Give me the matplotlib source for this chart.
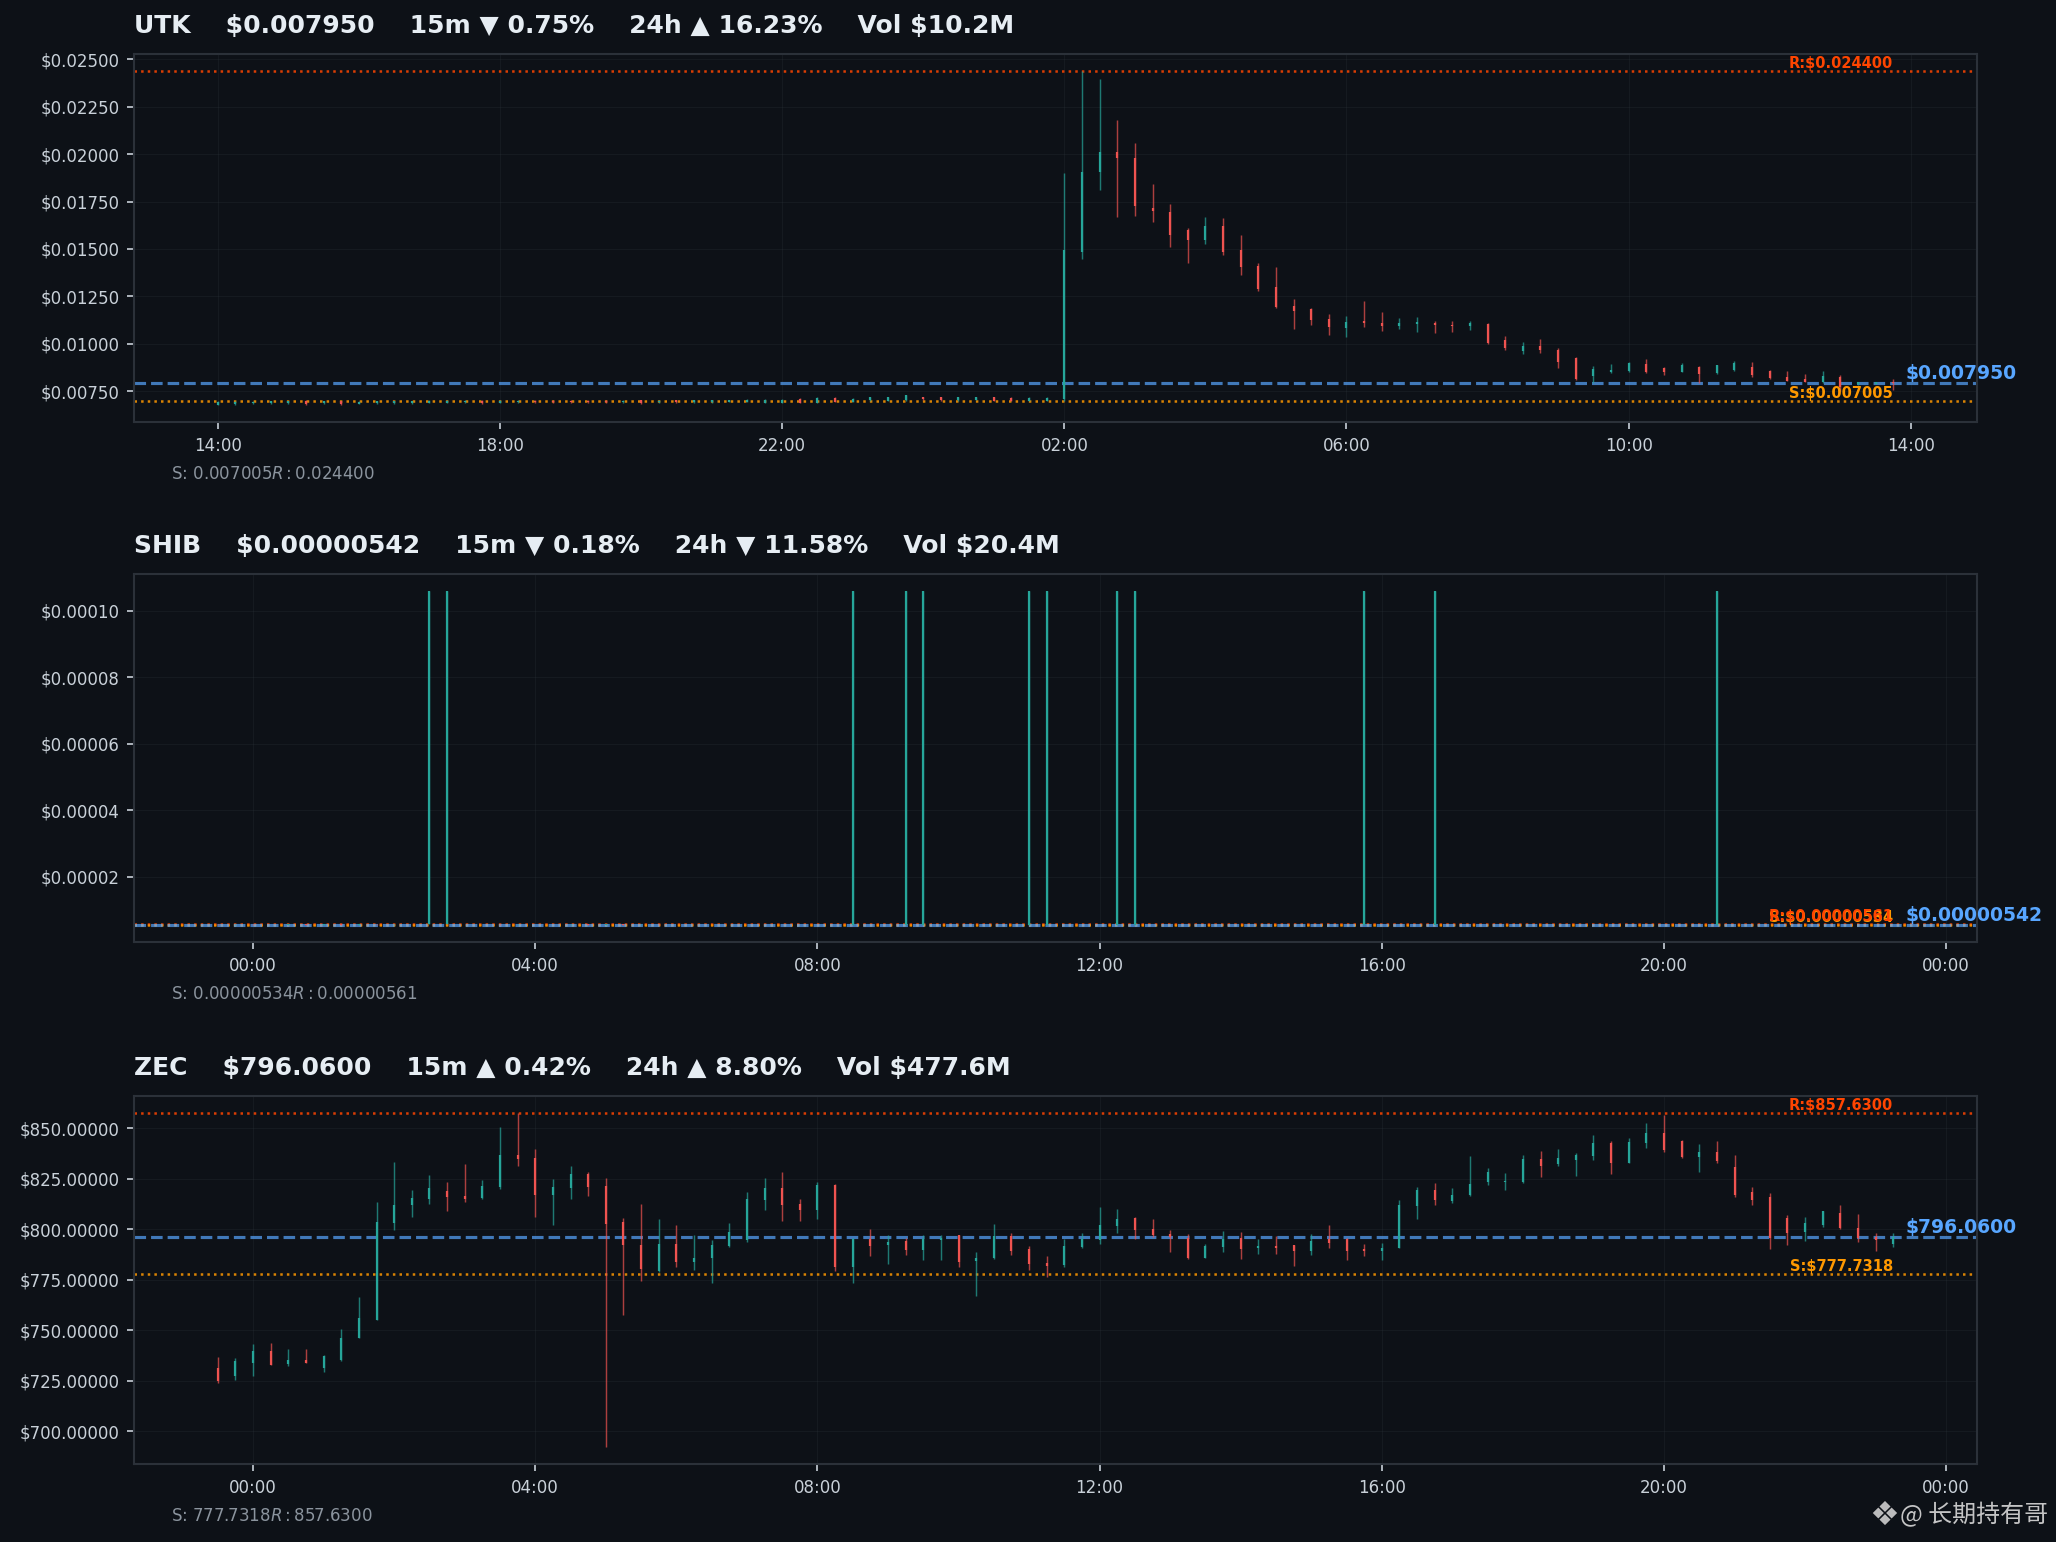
import pandas as pd
import numpy as np
import matplotlib
matplotlib.use("Agg")
import matplotlib.pyplot as plt
import matplotlib.dates as mdates
from matplotlib.ticker import FuncFormatter

BG = "#0d1117"
UP = "#26a69a"
DOWN = "#ef5350"
BLUE = "#58a6ff"
RES_C = "#ff4500"
SUP_C = "#ff9800"
TEXT_C = "#e6edf3"
TICK_C = "#c9d1d9"
MUTED = "#8b949e"
SPINE = "#2b3139"

# ---------------- UTK (15m candles, 14:00 -> 13:45) ----------------
utk_start = "2025-11-09 14:00"
utk_open = [
    0.00680, 0.00685, 0.00686, 0.00688, 0.00689, 0.00697, 0.00686, 0.00696,
    0.00684, 0.00687, 0.00688, 0.00689, 0.00690, 0.00690, 0.00691, 0.00700,
    0.00689, 0.00692, 0.00701, 0.00700, 0.00701, 0.00700, 0.00701, 0.00692,
    0.00702, 0.00691, 0.00702, 0.00693, 0.00694, 0.00694, 0.00695, 0.00690,
    0.00688, 0.00710, 0.00688, 0.00716, 0.00695, 0.00702, 0.00698, 0.00703,
    0.00720, 0.00720, 0.00703, 0.00704, 0.00720, 0.00716, 0.00699, 0.00699,
    0.00707, 0.01484, 0.01906, 0.02009, 0.01978, 0.01718, 0.01693, 0.01600,
    0.01545, 0.01620, 0.01494, 0.01410, 0.01298, 0.01199, 0.01182, 0.01133,
    0.01083, 0.01119, 0.01110, 0.01096, 0.01105, 0.01110, 0.01100, 0.01094,
    0.01104, 0.01020, 0.00960, 0.00990, 0.00966, 0.00925, 0.00830, 0.00850,
    0.00855, 0.00893, 0.00870, 0.00852, 0.00878, 0.00845, 0.00862, 0.00876,
    0.00855, 0.00825, 0.00813, 0.00800, 0.00827, 0.00790, 0.00790, 0.00801,
]
utk_high = [
    0.00698, 0.00697, 0.00699, 0.00700, 0.00701, 0.00702, 0.00700, 0.00700,
    0.00699, 0.00700, 0.00701, 0.00701, 0.00703, 0.00702, 0.00703, 0.00704,
    0.00702, 0.00703, 0.00705, 0.00704, 0.00705, 0.00704, 0.00704, 0.00705,
    0.00706, 0.00704, 0.00705, 0.00705, 0.00706, 0.00706, 0.00707, 0.00707,
    0.00707, 0.00712, 0.00718, 0.00718, 0.00712, 0.00722, 0.00722, 0.00730,
    0.00722, 0.00722, 0.00722, 0.00722, 0.00722, 0.00718, 0.00718, 0.00718,
    0.01900, 0.02440, 0.02399, 0.02178, 0.02057, 0.01841, 0.01735, 0.01609,
    0.01667, 0.01662, 0.01572, 0.01424, 0.01403, 0.01234, 0.01187, 0.01155,
    0.01145, 0.01224, 0.01166, 0.01134, 0.01140, 0.01119, 0.01119, 0.01119,
    0.01110, 0.01041, 0.01008, 0.01024, 0.00976, 0.00929, 0.00881, 0.00892,
    0.00902, 0.00918, 0.00880, 0.00900, 0.00883, 0.00890, 0.00907, 0.00902,
    0.00860, 0.00855, 0.00839, 0.00855, 0.00834, 0.00799, 0.00800, 0.00813,
]
utk_low = [
    0.00676, 0.00680, 0.00682, 0.00684, 0.00685, 0.00680, 0.00683, 0.00679,
    0.00681, 0.00683, 0.00684, 0.00685, 0.00686, 0.00686, 0.00687, 0.00685,
    0.00686, 0.00688, 0.00689, 0.00690, 0.00689, 0.00688, 0.00690, 0.00689,
    0.00685, 0.00688, 0.00688, 0.00690, 0.00690, 0.00691, 0.00691, 0.00688,
    0.00686, 0.00686, 0.00686, 0.00694, 0.00693, 0.00700, 0.00696, 0.00701,
    0.00705, 0.00700, 0.00701, 0.00702, 0.00697, 0.00697, 0.00697, 0.00697,
    0.00700, 0.01445, 0.01810, 0.01668, 0.01674, 0.01642, 0.01510, 0.01426,
    0.01526, 0.01468, 0.01363, 0.01278, 0.01190, 0.01078, 0.01099, 0.01046,
    0.01034, 0.01089, 0.01067, 0.01078, 0.01062, 0.01057, 0.01062, 0.01073,
    0.01000, 0.00966, 0.00945, 0.00951, 0.00871, 0.00807, 0.00795, 0.00848,
    0.00850, 0.00844, 0.00834, 0.00850, 0.00793, 0.00840, 0.00855, 0.00827,
    0.00813, 0.00802, 0.00799, 0.00795, 0.00751, 0.00785, 0.00786, 0.00755,
]
utk_close = [
    0.00692, 0.00693, 0.00695, 0.00696, 0.00697, 0.00684, 0.00696, 0.00683,
    0.00695, 0.00696, 0.00697, 0.00698, 0.00699, 0.00699, 0.00700, 0.00688,
    0.00699, 0.00700, 0.00692, 0.00693, 0.00692, 0.00691, 0.00694, 0.00701,
    0.00690, 0.00701, 0.00692, 0.00702, 0.00703, 0.00703, 0.00704, 0.00704,
    0.00705, 0.00688, 0.00716, 0.00695, 0.00710, 0.00720, 0.00720, 0.00728,
    0.00707, 0.00702, 0.00720, 0.00720, 0.00699, 0.00699, 0.00716, 0.00716,
    0.01493, 0.01904, 0.02009, 0.01979, 0.01726, 0.01700, 0.01573, 0.01547,
    0.01619, 0.01484, 0.01403, 0.01287, 0.01194, 0.01173, 0.01125, 0.01090,
    0.01115, 0.01110, 0.01092, 0.01110, 0.01114, 0.01100, 0.01092, 0.01108,
    0.01005, 0.00976, 0.00987, 0.00970, 0.00904, 0.00813, 0.00866, 0.00860,
    0.00897, 0.00851, 0.00850, 0.00890, 0.00840, 0.00886, 0.00898, 0.00834,
    0.00818, 0.00804, 0.00801, 0.00830, 0.00770, 0.00798, 0.00797, 0.00795,
]

# ---------------- SHIB (15m candles, 23:30 -> 23:15) ----------------
shib_start = "2025-11-09 23:30"
shib_open = [
    5.56e-6, 5.55e-6, 5.57e-6, 5.54e-6, 5.56e-6, 5.58e-6, 5.56e-6, 5.59e-6,
    5.57e-6, 5.61e-6, 5.58e-6, 5.60e-6, 5.59e-6, 5.60e-6, 5.60e-6, 5.63e-6,
    5.60e-6, 5.58e-6, 5.60e-6, 5.62e-6, 5.59e-6, 5.60e-6, 5.57e-6, 5.58e-6,
    5.56e-6, 5.57e-6, 5.55e-6, 5.56e-6, 5.54e-6, 5.55e-6, 5.53e-6, 5.54e-6,
    5.52e-6, 5.53e-6, 5.51e-6, 5.52e-6, 5.50e-6, 5.52e-6, 5.49e-6, 5.50e-6,
    5.51e-6, 5.52e-6, 5.49e-6, 5.47e-6, 5.49e-6, 5.50e-6, 5.48e-6, 5.49e-6,
    5.50e-6, 5.46e-6, 5.47e-6, 5.45e-6, 5.47e-6, 5.48e-6, 5.44e-6, 5.45e-6,
    5.43e-6, 5.44e-6, 5.42e-6, 5.43e-6, 5.41e-6, 5.42e-6, 5.39e-6, 5.40e-6,
    5.37e-6, 5.38e-6, 5.40e-6, 5.37e-6, 5.35e-6, 5.37e-6, 5.39e-6, 5.36e-6,
    5.37e-6, 5.39e-6, 5.37e-6, 5.40e-6, 5.41e-6, 5.38e-6, 5.39e-6, 5.42e-6,
    5.40e-6, 5.42e-6, 5.41e-6, 5.43e-6, 5.42e-6, 5.43e-6, 5.43e-6, 5.45e-6,
    5.44e-6, 5.42e-6, 5.43e-6, 5.41e-6, 5.42e-6, 5.44e-6, 5.43e-6, 5.43e-6,
]
shib_high = [
    5.58e-6, 5.58e-6, 5.59e-6, 5.57e-6, 5.60e-6, 5.59e-6, 5.60e-6, 5.61e-6,
    5.63e-6, 5.62e-6, 5.61e-6, 5.62e-6, 1.061e-4, 1.061e-4, 5.65e-6, 5.64e-6,
    5.62e-6, 5.61e-6, 5.64e-6, 5.63e-6, 5.61e-6, 5.62e-6, 5.59e-6, 5.60e-6,
    5.58e-6, 5.58e-6, 5.57e-6, 5.57e-6, 5.56e-6, 5.56e-6, 5.55e-6, 5.55e-6,
    5.54e-6, 5.54e-6, 5.53e-6, 5.53e-6, 1.060e-4, 5.53e-6, 5.51e-6, 1.061e-4,
    1.060e-4, 5.53e-6, 5.51e-6, 5.50e-6, 5.52e-6, 5.51e-6, 1.061e-4, 1.060e-4,
    5.51e-6, 5.48e-6, 5.48e-6, 1.060e-4, 1.061e-4, 5.49e-6, 5.46e-6, 5.46e-6,
    5.45e-6, 5.45e-6, 5.44e-6, 5.44e-6, 5.43e-6, 5.43e-6, 5.41e-6, 5.41e-6,
    5.39e-6, 1.061e-4, 5.41e-6, 5.39e-6, 5.38e-6, 1.060e-4, 5.40e-6, 5.38e-6,
    5.40e-6, 5.40e-6, 5.41e-6, 5.42e-6, 5.42e-6, 5.40e-6, 5.43e-6, 5.43e-6,
    5.43e-6, 5.43e-6, 5.44e-6, 5.44e-6, 5.45e-6, 1.061e-4, 5.46e-6, 5.46e-6,
    5.45e-6, 5.44e-6, 5.44e-6, 5.43e-6, 5.45e-6, 5.45e-6, 5.44e-6, 5.44e-6,
]
shib_low = [
    5.53e-6, 5.54e-6, 5.53e-6, 5.52e-6, 5.55e-6, 5.55e-6, 5.55e-6, 5.56e-6,
    5.56e-6, 5.57e-6, 5.57e-6, 5.58e-6, 5.58e-6, 5.59e-6, 5.58e-6, 5.59e-6,
    5.57e-6, 5.56e-6, 5.59e-6, 5.58e-6, 5.57e-6, 5.56e-6, 5.55e-6, 5.55e-6,
    5.54e-6, 5.53e-6, 5.53e-6, 5.52e-6, 5.52e-6, 5.51e-6, 5.51e-6, 5.50e-6,
    5.50e-6, 5.49e-6, 5.49e-6, 5.48e-6, 5.49e-6, 5.48e-6, 5.47e-6, 5.48e-6,
    5.49e-6, 5.48e-6, 5.46e-6, 5.46e-6, 5.48e-6, 5.47e-6, 5.46e-6, 5.47e-6,
    5.45e-6, 5.44e-6, 5.44e-6, 5.44e-6, 5.45e-6, 5.43e-6, 5.42e-6, 5.42e-6,
    5.41e-6, 5.41e-6, 5.40e-6, 5.40e-6, 5.39e-6, 5.38e-6, 5.37e-6, 5.36e-6,
    5.35e-6, 5.36e-6, 5.36e-6, 5.34e-6, 5.34e-6, 5.35e-6, 5.35e-6, 5.34e-6,
    5.36e-6, 5.36e-6, 5.36e-6, 5.38e-6, 5.37e-6, 5.37e-6, 5.38e-6, 5.39e-6,
    5.39e-6, 5.40e-6, 5.40e-6, 5.41e-6, 5.41e-6, 5.42e-6, 5.42e-6, 5.42e-6,
    5.41e-6, 5.40e-6, 5.40e-6, 5.39e-6, 5.41e-6, 5.42e-6, 5.41e-6, 5.41e-6,
]
# the spike candles close at their high, so they show as full-height bodies
shib_close = [
    5.55e-6, 5.57e-6, 5.54e-6, 5.56e-6, 5.58e-6, 5.56e-6, 5.59e-6, 5.57e-6,
    5.61e-6, 5.58e-6, 5.60e-6, 5.59e-6, 1.061e-4, 1.061e-4, 5.63e-6, 5.60e-6,
    5.58e-6, 5.60e-6, 5.62e-6, 5.59e-6, 5.60e-6, 5.57e-6, 5.58e-6, 5.56e-6,
    5.57e-6, 5.55e-6, 5.56e-6, 5.54e-6, 5.55e-6, 5.53e-6, 5.54e-6, 5.52e-6,
    5.53e-6, 5.51e-6, 5.52e-6, 5.50e-6, 1.060e-4, 5.49e-6, 5.50e-6, 1.061e-4,
    1.060e-4, 5.49e-6, 5.47e-6, 5.49e-6, 5.50e-6, 5.48e-6, 1.061e-4, 1.060e-4,
    5.46e-6, 5.47e-6, 5.45e-6, 1.060e-4, 1.061e-4, 5.44e-6, 5.45e-6, 5.43e-6,
    5.44e-6, 5.42e-6, 5.43e-6, 5.41e-6, 5.42e-6, 5.39e-6, 5.40e-6, 5.37e-6,
    5.38e-6, 1.061e-4, 5.37e-6, 5.35e-6, 5.37e-6, 1.060e-4, 5.36e-6, 5.37e-6,
    5.39e-6, 5.37e-6, 5.40e-6, 5.41e-6, 5.38e-6, 5.39e-6, 5.42e-6, 5.40e-6,
    5.42e-6, 5.41e-6, 5.43e-6, 5.42e-6, 5.44e-6, 1.061e-4, 5.45e-6, 5.44e-6,
    5.42e-6, 5.43e-6, 5.41e-6, 5.42e-6, 5.44e-6, 5.43e-6, 5.43e-6, 5.42e-6,
]

# ---------------- ZEC (15m candles, 23:30 -> 23:15) ----------------
zec_start = "2025-11-09 23:30"
zec_open = [
    731.5, 727.5, 734.0, 739.7, 733.5, 735.6, 731.5, 735.3,
    746.4, 755.3, 803.2, 811.8, 815.0, 819.1, 816.6, 815.3,
    820.8, 836.6, 835.0, 816.7, 820.3, 827.3, 821.3, 803.6,
    792.1, 779.3, 792.6, 783.9, 785.9, 791.6, 794.6, 814.7,
    820.3, 812.6, 809.6, 821.9, 781.5, 795.4, 792.1, 794.1,
    789.7, 794.6, 797.0, 784.3, 785.6, 796.7, 790.0, 783.1,
    782.3, 791.0, 794.6, 801.4, 805.5, 800.3, 797.8, 795.7,
    786.0, 791.4, 795.7, 790.5, 791.9, 792.0, 789.5, 795.0,
    795.4, 790.2, 789.2, 790.8, 811.7, 819.5, 814.2, 816.7,
    823.2, 823.2, 823.2, 834.7, 832.2, 834.3, 836.3, 842.5,
    833.0, 842.5, 847.8, 843.7, 835.5, 838.3, 830.6, 818.3,
    815.9, 805.5, 798.7, 801.9, 808.2, 800.6, 796.2, 792.73,
]
zec_high = [
    736.9, 736.4, 743.3, 743.8, 740.9, 740.9, 737.6, 750.7,
    766.4, 813.6, 833.2, 819.5, 826.8, 823.2, 832.2, 824.4,
    850.4, 857.63, 839.6, 824.9, 831.2, 828.3, 825.3, 805.7,
    812.6, 805.2, 801.9, 797.4, 794.6, 803.2, 818.3, 825.3,
    828.3, 815.0, 823.2, 822.4, 795.7, 800.3, 797.0, 795.7,
    797.0, 797.4, 797.4, 788.8, 802.7, 798.3, 791.5, 787.0,
    795.4, 798.3, 811.1, 810.1, 806.2, 805.2, 799.8, 797.8,
    792.9, 799.3, 798.8, 795.4, 796.9, 792.4, 797.8, 802.3,
    795.9, 792.9, 793.4, 814.5, 820.8, 822.9, 820.3, 836.0,
    830.1, 827.6, 836.6, 838.8, 839.9, 837.9, 846.5, 843.5,
    845.3, 852.4, 856.3, 844.0, 842.1, 843.5, 836.6, 820.8,
    818.0, 807.2, 806.0, 809.1, 812.1, 807.7, 798.3, 798.3,
]
zec_low = [
    724.2, 725.3, 727.3, 732.7, 732.2, 733.7, 729.6, 734.8,
    746.0, 755.0, 799.5, 805.9, 812.7, 808.8, 813.7, 815.0,
    820.0, 831.4, 805.9, 802.3, 815.0, 816.3, 692.2, 757.7,
    774.4, 779.0, 781.5, 779.8, 773.3, 791.3, 793.8, 809.6,
    803.9, 803.9, 804.9, 779.3, 773.6, 786.7, 782.8, 787.2,
    784.7, 784.7, 781.5, 767.1, 785.1, 787.5, 779.7, 776.2,
    781.2, 790.5, 792.9, 798.3, 795.4, 796.4, 789.0, 785.1,
    785.8, 789.0, 785.1, 788.0, 788.0, 781.6, 787.5, 790.5,
    784.6, 786.7, 784.7, 790.5, 804.9, 812.1, 812.9, 816.5,
    821.9, 819.5, 822.9, 825.7, 831.4, 826.5, 834.3, 827.3,
    832.8, 840.1, 838.0, 835.0, 828.5, 833.0, 815.9, 811.8,
    790.2, 792.4, 794.1, 801.1, 800.3, 793.7, 789.2, 791.3,
]
zec_close = [
    725.0, 735.0, 739.7, 733.0, 735.6, 734.0, 737.3, 746.3,
    756.1, 803.6, 812.1, 815.4, 820.3, 816.2, 815.0, 821.3,
    836.6, 834.7, 816.7, 820.8, 827.3, 821.1, 802.8, 792.1,
    780.3, 792.6, 783.9, 785.9, 792.1, 798.6, 815.0, 820.3,
    812.1, 809.6, 821.9, 781.5, 795.4, 791.6, 793.7, 789.7,
    795.4, 795.7, 783.9, 785.9, 796.7, 789.5, 782.6, 782.0,
    791.6, 795.4, 802.3, 805.2, 799.8, 797.4, 796.2, 785.9,
    791.9, 795.4, 790.0, 791.9, 790.5, 789.5, 794.4, 793.4,
    789.5, 789.2, 790.8, 812.1, 819.5, 814.7, 817.0, 822.4,
    828.1, 824.0, 834.7, 831.4, 835.0, 836.6, 842.5, 833.0,
    843.2, 847.8, 839.3, 835.5, 838.0, 833.9, 816.7, 814.7,
    795.7, 798.3, 803.2, 808.8, 800.6, 795.7, 794.6, 796.06,
]

# header / level values
symbols = ["UTK", "SHIB", "ZEC"]
last_price = [0.007950, 0.00000542, 796.06]
price_fmt = ["{:.6f}", "{:.8f}", "{:.4f}"]
chg_15m = ["▼ 0.75%", "▼ 0.18%", "▲ 0.42%"]
chg_24h = ["▲ 16.23%", "▼ 11.58%", "▲ 8.80%"]
volume = ["10.2M", "20.4M", "477.6M"]
support = [0.007005, 0.00000534, 777.7318]
resistance = [0.024400, 0.00000561, 857.6300]
tick_hours = [[2, 6, 10, 14, 18, 22], [0, 4, 8, 12, 16, 20], [0, 4, 8, 12, 16, 20]]

W, H, DPI = 2056, 1542, 150
AX_LEFT, AX_RIGHT = 134, 1977
AX_TOPS = [54, 574, 1096]
AX_H = 368


def draw_panel(ax, start, o, h, l, c, k):
    times = pd.date_range(start, periods=len(o), freq="15min")
    x = mdates.date2num(times.to_pydatetime())
    o, h, l, c = map(np.asarray, (o, h, l, c))
    cols = [UP if cc >= oo else DOWN for oo, cc in zip(o, c)]

    ax.vlines(x, l, h, colors=cols, linewidth=0.7, alpha=0.7, zorder=3)
    ax.vlines(x, np.minimum(o, c), np.maximum(o, c), colors=cols,
              linewidth=1.05, zorder=4)

    fmt = price_fmt[k]
    ax.axhline(resistance[k], color=RES_C, linestyle=":", linewidth=1.2, alpha=0.85, zorder=2)
    ax.axhline(support[k], color=SUP_C, linestyle=":", linewidth=1.2, alpha=0.85, zorder=2)
    ax.axhline(last_price[k], color=BLUE, linestyle="--", linewidth=1.5, alpha=0.7, zorder=2)

    ax.text(x[-1], support[k], "S:$" + fmt.format(support[k]), color=SUP_C,
            fontsize=7, fontweight="bold", ha="right", va="bottom", zorder=5)
    ax.text(x[-1], resistance[k], "R:$" + fmt.format(resistance[k]), color=RES_C,
            fontsize=7, fontweight="bold", ha="right", va="bottom", zorder=6)
    ax.annotate("$" + fmt.format(last_price[k]), xy=(x[-1], last_price[k]),
                xytext=(6, 0), textcoords="offset points", ha="left", va="bottom",
                color=BLUE, fontsize=9, fontweight="bold", annotation_clip=False)

    title = (f"{symbols[k]}    \\${fmt.format(last_price[k])}    15m {chg_15m[k]}"
             f"    24h {chg_24h[k]}    Vol \\${volume[k]}")
    ax.set_title(title, loc="left", color=TEXT_C, fontsize=12, fontweight="bold", pad=10)

    ax.text(0.02, -0.14, f"S: ${fmt.format(support[k])}  R: ${fmt.format(resistance[k])}",
            transform=ax.transAxes, color=MUTED, fontsize=8, ha="left", va="center")

    ax.set_facecolor(BG)
    for s in ax.spines.values():
        s.set_color(SPINE)
        s.set_linewidth(1.0)
    ax.tick_params(colors=TICK_C, labelsize=8)
    ax.grid(True, color="#30363d", alpha=0.25, linewidth=0.5)
    ax.set_axisbelow(True)
    ax.xaxis.set_major_locator(mdates.HourLocator(byhour=tick_hours[k]))
    ax.xaxis.set_major_formatter(mdates.DateFormatter("%H:%M"))
    ax.yaxis.set_major_formatter(FuncFormatter(lambda v, p: f"${v:.5f}"))


fig = plt.figure(figsize=(W / DPI, H / DPI), dpi=DPI, facecolor=BG)
data = [
    (utk_start, utk_open, utk_high, utk_low, utk_close),
    (shib_start, shib_open, shib_high, shib_low, shib_close),
    (zec_start, zec_open, zec_high, zec_low, zec_close),
]
for k, (start, o, h, l, c) in enumerate(data):
    top = AX_TOPS[k]
    rect = [AX_LEFT / W, 1 - (top + AX_H) / H, (AX_RIGHT - AX_LEFT) / W, AX_H / H]
    ax = fig.add_axes(rect)
    draw_panel(ax, start, o, h, l, c, k)

# watermark
fig.text(1884 / W, 1 - 1515 / H, "❖", color="#cfcfcf", fontsize=16,
         family=["DejaVu Sans"], ha="center", va="center", alpha=0.9)
fig.text(2048 / W, 1 - 1515 / H, "@ 长期持有哥", color="#d9d9d9", fontsize=11.5,
         family=["Noto Sans CJK SC", "DejaVu Sans"], ha="right", va="center", alpha=0.9)

fig.savefig("out.png", dpi=DPI, facecolor=BG)
